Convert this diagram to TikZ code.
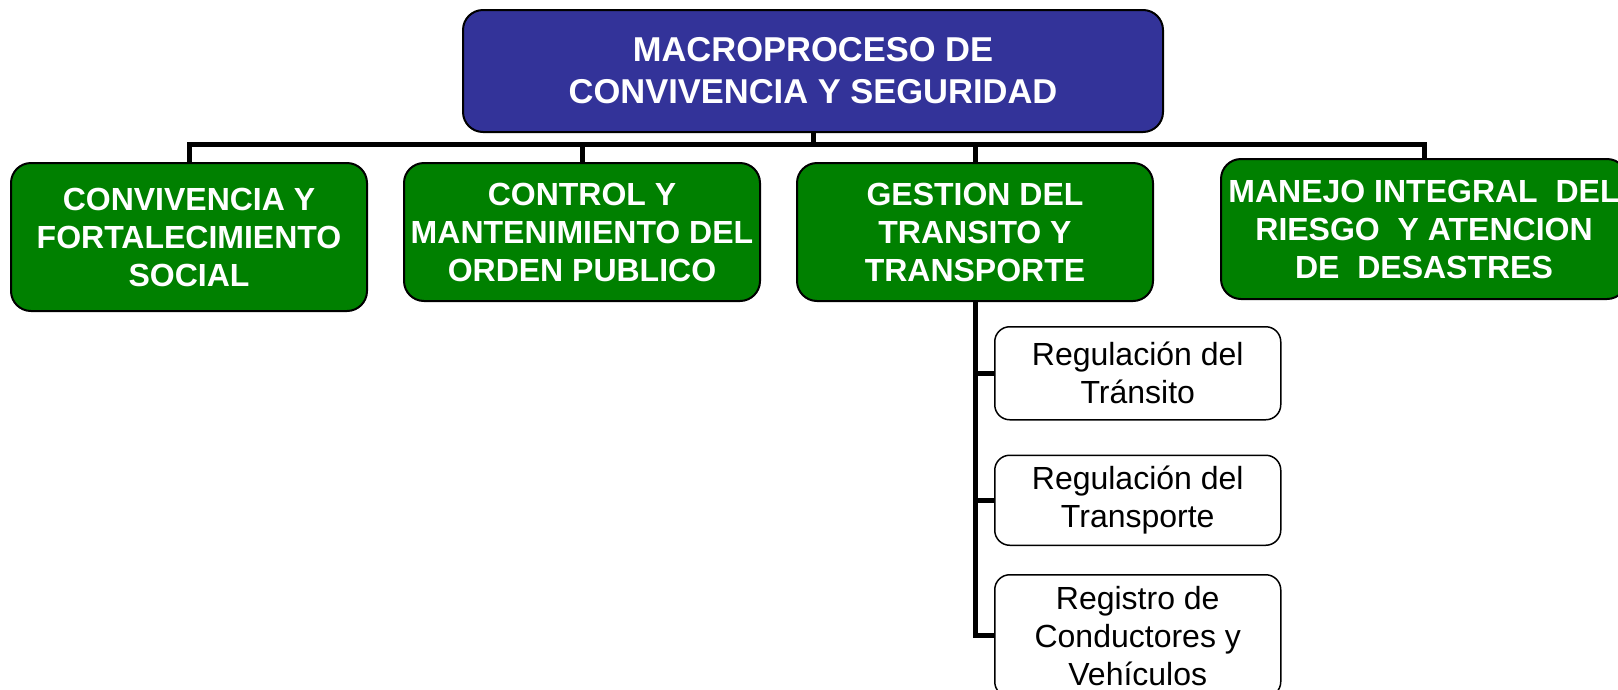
\documentclass[tikz,border=0pt]{standalone}
\usepackage{fontspec}
\setmainfont{Liberation Sans}
\usetikzlibrary{positioning}
\definecolor{macroblue}{HTML}{333399}
\definecolor{branchgreen}{HTML}{008000}
\tikzset{
  macro/.style = {draw, line width = 2pt, rounded corners = 20pt, fill = macroblue, text = white,
    font = \bfseries\fontsize{34.5}{42}\selectfont, align = center,
    minimum width = 700pt, minimum height = 122pt, inner sep = 0pt},
  branch/.style = {draw, line width = 2pt, rounded corners = 20pt, fill = branchgreen, text = white,
    font = \bfseries\fontsize{32}{38}\selectfont, align = center,
    minimum width = 356pt, minimum height = 138pt, inner sep = 0pt},
  task/.style = {draw, line width = 1.5pt, rounded corners = 15pt, fill = white,
    font = \fontsize{32}{38}\selectfont, align = center,
    minimum width = 286pt, inner sep = 0pt},
  tie/.style = {line width = 5pt}
}

\begin{document}
\begin{tikzpicture}[x = 1pt, y = 1pt]
  \useasboundingbox (0,0) rectangle (1618,-689);
  % nodes
  \node [macro] (macro) at (813,-71) {MACROPROCESO DE\\CONVIVENCIA Y SEGURIDAD};
  \node [branch, minimum height = 148pt, anchor = north west] (conv) at (10,-162) {CONVIVENCIA Y\\FORTALECIMIENTO\\SOCIAL};
  \node [branch, right = 35pt of conv.north east, anchor = north west] (ctrl) {CONTROL Y\\MANTENIMIENTO DEL\\ORDEN PUBLICO};
  \node [branch, right = 35pt of ctrl.north east, anchor = north west] (trans) {GESTION DEL\\TRANSITO Y\\TRANSPORTE};
  \node [branch, minimum width = 406pt, minimum height = 140pt, right = 66pt of trans.north east, anchor = north west, yshift = 4pt] (riesgo) {MANEJO INTEGRAL\ \ DEL\\RIESGO\ \ Y ATENCION\\DE\ \ DESASTRES};
  \node [task, minimum height = 93pt, anchor = north west] (tran) at (994,-326) {Regulación del\\Tránsito};
  \node [task, minimum height = 90pt, below = 34pt of tran] (transp) {Regulación del\\Transporte};
  \node [task, minimum height = 122pt, below = 28pt of transp] (reg) {Registro de\\Conductores y\\Vehículos};
  \coordinate (bus) at (0,-144);
  % paths
  \draw [tie] (macro.south) -- (macro.south |- bus);
  \draw [tie] (macro.south |- bus) -| (conv.north);
  \draw [tie] (macro.south |- bus) -| (ctrl.north);
  \draw [tie] (macro.south |- bus) -| (trans.north);
  \draw [tie] (macro.south |- bus) -| (riesgo.north);
  \draw [tie] (trans.south) |- (tran.west);
  \draw [tie] (trans.south) |- (transp.west);
  \draw [tie] (trans.south) |- (reg.west);
\end{tikzpicture}
\end{document}
